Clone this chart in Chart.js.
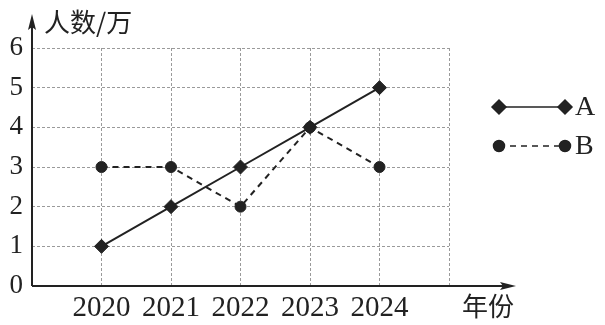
<!DOCTYPE html>
<html>
<head>
<meta charset="utf-8">
<script src="https://cdn.jsdelivr.net/npm/chart.js@4"></script>
<style>
  body { margin: 0; background: #fff; }
  #wrap { width: 605px; height: 325px; }
</style>
</head>
<body>
<div id="wrap"><canvas id="chart" width="605" height="325"></canvas></div>
<script>
const years = [2020, 2021, 2022, 2023, 2024];
const seriesA = [1, 2, 3, 4, 5];
const seriesB = [3, 3, 2, 4, 3];
const yTicks = [0, 1, 2, 3, 4, 5, 6];

const serif = "'Liberation Serif', 'DejaVu Serif', serif";
const cjk = "'Noto Sans CJK SC', sans-serif";

// axes with arrows, titles and the legend on the right
const extras = {
    id: 'extras',
    afterDraw(chart) {
        const ctx = chart.ctx;
        const a = chart.chartArea;
        ctx.save();
        ctx.strokeStyle = '#222';
        ctx.fillStyle = '#222';
        ctx.lineWidth = 2;
        // x axis
        ctx.beginPath();
        ctx.moveTo(a.left, a.bottom);
        ctx.lineTo(508, a.bottom);
        ctx.stroke();
        ctx.beginPath();
        ctx.moveTo(516, a.bottom);
        ctx.lineTo(500, a.bottom - 4);
        ctx.lineTo(503, a.bottom);
        ctx.lineTo(500, a.bottom + 4);
        ctx.closePath();
        ctx.fill();
        // y axis
        ctx.beginPath();
        ctx.moveTo(a.left, a.bottom);
        ctx.lineTo(a.left, 22);
        ctx.stroke();
        ctx.beginPath();
        ctx.moveTo(a.left, 14);
        ctx.lineTo(a.left - 4, 30);
        ctx.lineTo(a.left, 27);
        ctx.lineTo(a.left + 4, 30);
        ctx.closePath();
        ctx.fill();

        ctx.textBaseline = 'middle';
        ctx.textAlign = 'left';
        ctx.font = '26px ' + cjk;
        ctx.fillText('人数/万', 44, 22);
        ctx.fillText('年份', 462, 306);

        // legend
        const items = [
            { label: 'A', ds: chart.data.datasets[0], y: 107 },
            { label: 'B', ds: chart.data.datasets[1], y: 146 }
        ];
        items.forEach(it => {
            ctx.lineWidth = 1.5;
            ctx.setLineDash(it.ds.borderDash || []);
            ctx.beginPath();
            ctx.moveTo(499, it.y);
            ctx.lineTo(565, it.y);
            ctx.stroke();
            ctx.setLineDash([]);
            [499, 565].forEach(px => {
                Chart.helpers.drawPoint(ctx, {
                    pointStyle: it.ds.pointStyle,
                    radius: it.ds.pointRadius,
                    borderWidth: 1
                }, px, it.y);
                ctx.fill();
            });
            ctx.font = '28px ' + serif;
            ctx.fillText(it.label, 575, it.y + 1);
        });
        ctx.restore();
    }
};

const ctx = document.getElementById('chart').getContext('2d');
new Chart(ctx, {
    type: 'line',
    data: {
        datasets: [{
            label: 'A',
            data: years.map((y, i) => ({ x: y, y: seriesA[i] })),
            borderColor: '#222',
            backgroundColor: '#222',
            borderWidth: 2,
            pointStyle: 'rectRot',
            pointRadius: 7,
            pointBorderWidth: 1
        }, {
            label: 'B',
            data: years.map((y, i) => ({ x: y, y: seriesB[i] })),
            borderColor: '#222',
            backgroundColor: '#222',
            borderWidth: 2,
            borderDash: [6, 5],
            pointStyle: 'circle',
            pointRadius: 5.5,
            pointBorderWidth: 1
        }]
    },
    options: {
        responsive: false,
        animation: false,
        layout: { padding: { top: 48, right: 156, left: 0, bottom: 0 } },
        plugins: { legend: { display: false }, tooltip: { enabled: false } },
        scales: {
            x: {
                type: 'linear',
                min: 2019,
                max: 2025,
                afterBuildTicks: scale => {
                    scale.ticks = years.concat([2025]).map(v => ({ value: v }));
                },
                afterFit: scale => { scale.height = 39; },
                grid: {
                    color: '#9a9a9a',
                    lineWidth: 1,
                    drawTicks: false
                },
                border: { display: false, dash: [3, 2] },
                ticks: {
                    color: '#222',
                    padding: 5,
                    font: { family: serif, size: 29 },
                    callback: v => (years.includes(v) ? String(v) : '')
                }
            },
            y: {
                min: 0,
                max: 6,
                afterBuildTicks: scale => {
                    scale.ticks = yTicks.map(v => ({ value: v }));
                },
                afterFit: scale => { scale.width = 32; },
                grid: {
                    color: '#9a9a9a',
                    lineWidth: 1,
                    drawTicks: false
                },
                border: { display: false, dash: [3, 2] },
                ticks: {
                    color: '#222',
                    padding: 9,
                    font: { family: serif, size: 27 }
                }
            }
        }
    },
    plugins: [extras]
});
</script>
</body>
</html>
